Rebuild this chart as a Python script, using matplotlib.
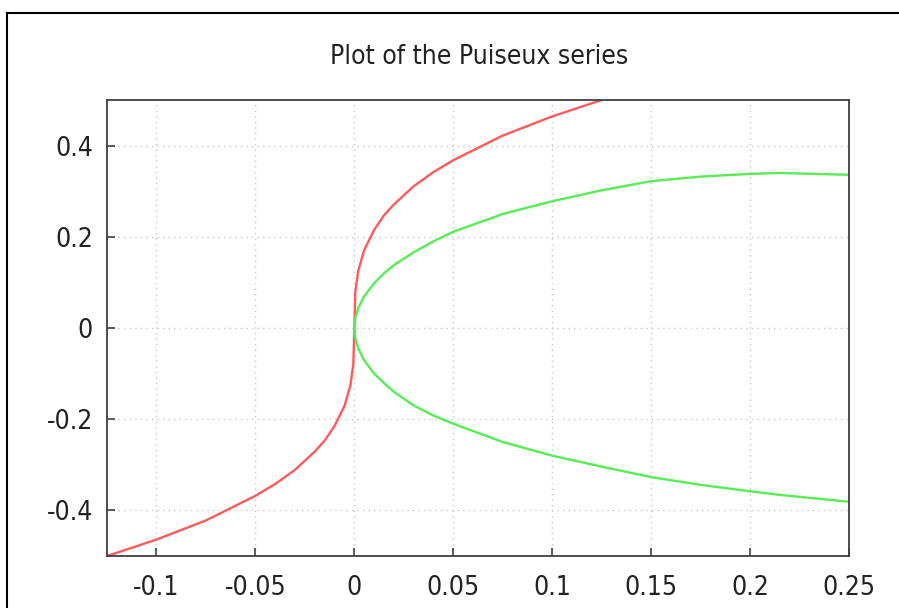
import matplotlib.pyplot as plt
from matplotlib.lines import Line2D

# red branch
red_x = [-0.125, -0.1, -0.075, -0.05, -0.04, -0.03, -0.02, -0.015, -0.01, -0.005, -0.002,
         -0.0005, 0.0, 0.0005, 0.002, 0.005, 0.01, 0.015, 0.02, 0.03, 0.04, 0.05, 0.075,
         0.1, 0.125]
red_y = [-0.5, -0.464, -0.422, -0.368, -0.342, -0.311, -0.271, -0.247, -0.215, -0.171,
         -0.126, -0.079, 0.0, 0.079, 0.126, 0.171, 0.215, 0.247, 0.271, 0.311, 0.342, 0.368,
         0.422, 0.464, 0.5]

# green branches (upper and lower share x)
green_x = [0.0, 0.0005, 0.002, 0.005, 0.01, 0.015, 0.02, 0.03, 0.04, 0.05, 0.075, 0.1,
           0.125, 0.15, 0.175, 0.2, 0.215, 0.25]
green_up = [0.0, 0.022, 0.044, 0.070, 0.098, 0.120, 0.138, 0.166, 0.190, 0.211, 0.250,
            0.278, 0.302, 0.322, 0.332, 0.338, 0.340, 0.336]
green_lo = [0.0, -0.022, -0.045, -0.071, -0.100, -0.121, -0.140, -0.170, -0.192, -0.210,
            -0.250, -0.280, -0.304, -0.327, -0.344, -0.358, -0.366, -0.381]

x_ticks = [-0.1, -0.05, 0, 0.05, 0.1, 0.15, 0.2, 0.25]
x_labels = ['-0.1', '-0.05', '0', '0.05', '0.1', '0.15', '0.2', '0.25']
y_ticks = [-0.4, -0.2, 0, 0.2, 0.4]
y_labels = ['-0.4', '-0.2', '0', '0.2', '0.4']

plt.rcParams['font.family'] = ['DejaVu Sans']
plt.rcParams['font.stretch'] = 'condensed'

fig = plt.figure(figsize=(8.99, 6.08), dpi=100)
ax = fig.add_axes([107 / 899, 1 - 556 / 608, 742 / 899, 456 / 608])

ax.plot(red_x, red_y, color='#ff5a5a', lw=1.7)
ax.plot(green_x, green_up, color='#55ee55', lw=1.7)
ax.plot(green_x, green_lo, color='#55ee55', lw=1.7)

ax.set_xlim(-0.125, 0.25)
ax.set_ylim(-0.5, 0.5)
ax.set_xticks(x_ticks)
ax.set_xticklabels(x_labels)
ax.set_yticks(y_ticks)
ax.set_yticklabels(y_labels)
ax.tick_params(direction='in', length=6, width=1.2, color='#404040',
               labelsize=19, labelcolor='#222222', top=False, right=False)
ax.tick_params(axis='x', pad=14)
ax.tick_params(axis='y', pad=10)
ax.grid(True, color='#c8c8c8', linestyle=(0, (1, 3)), lw=1)
for s in ax.spines.values():
    s.set_color('#404040')
    s.set_linewidth(1.3)

fig.text(479 / 899, 1 - 57 / 608, 'Plot of the Puiseux series', ha='center', va='center',
         fontsize=19, color='#222222')

# outer frame (top and left edges visible)
fig.add_artist(Line2D([7 / 899, 1.0], [1 - 13 / 608, 1 - 13 / 608], color='black', lw=1.5,
                      transform=fig.transFigure))
fig.add_artist(Line2D([7 / 899, 7 / 899], [0.0, 1 - 13 / 608], color='black', lw=1.5,
                      transform=fig.transFigure))

fig.savefig('out.png', dpi=100)
